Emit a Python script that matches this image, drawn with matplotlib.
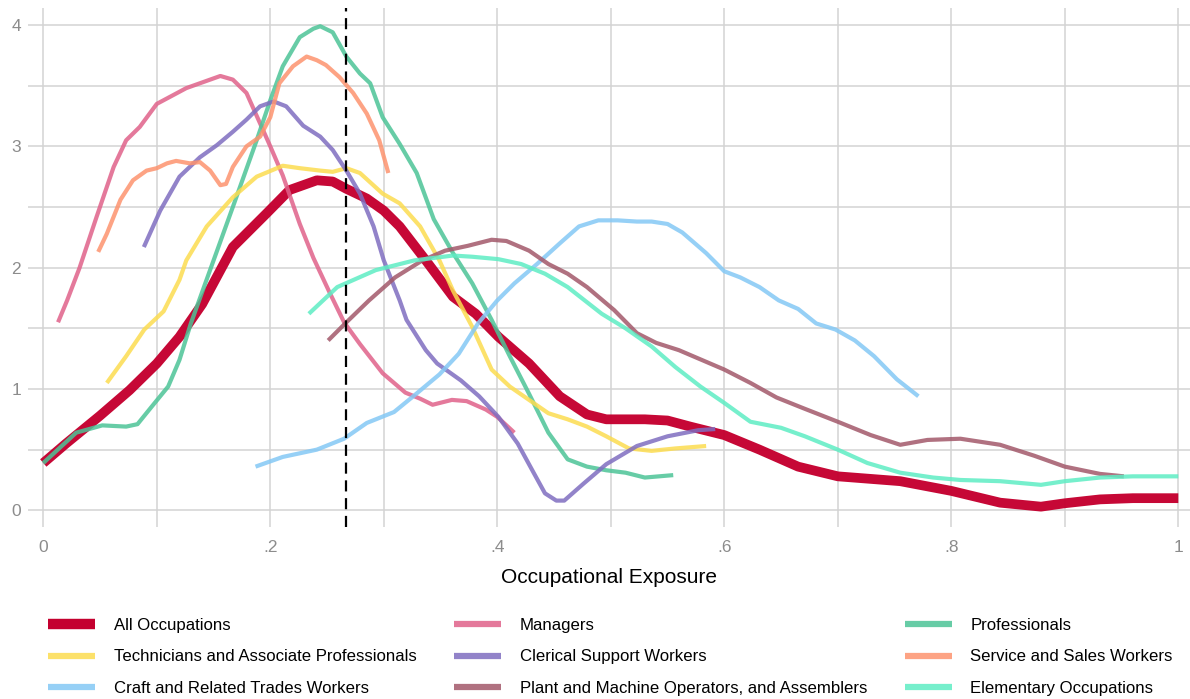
import matplotlib
matplotlib.use("Agg")
import matplotlib.pyplot as plt
from matplotlib.lines import Line2D
import numpy as np

plt.rcParams['font.family'] = ['Liberation Sans', 'DejaVu Sans']

# ----------------------------
# Data (x = occupational exposure, y = density)
# ----------------------------
all_x = [0.0, 0.02, 0.05, 0.076, 0.10, 0.12, 0.14, 0.167, 0.197, 0.217, 0.241, 0.255, 0.267, 0.285, 0.30,
         0.314, 0.337, 0.361, 0.381, 0.401, 0.428, 0.455, 0.479, 0.496, 0.53, 0.55, 0.57, 0.60, 0.631,
         0.665, 0.70, 0.755, 0.80, 0.843, 0.879, 0.90, 0.931, 0.96, 1.0]
all_y = [0.39, 0.55, 0.78, 0.99, 1.21, 1.43, 1.70, 2.17, 2.45, 2.64, 2.72, 2.71, 2.65, 2.57, 2.47,
         2.34, 2.06, 1.76, 1.62, 1.43, 1.21, 0.94, 0.79, 0.75, 0.75, 0.74, 0.69, 0.62, 0.50,
         0.36, 0.28, 0.24, 0.16, 0.063, 0.03, 0.058, 0.09, 0.10, 0.10]

mgr_x = [0.013, 0.021, 0.032, 0.047, 0.062, 0.073, 0.085, 0.10, 0.112, 0.126, 0.141, 0.156, 0.167, 0.179,
         0.19, 0.20, 0.211, 0.226, 0.238, 0.252, 0.265, 0.279, 0.299, 0.319, 0.332, 0.343, 0.36, 0.373,
         0.39, 0.40, 0.415]
mgr_y = [1.55, 1.73, 2.0, 2.42, 2.83, 3.05, 3.16, 3.35, 3.41, 3.48, 3.53, 3.58, 3.55, 3.44,
         3.21, 3.0, 2.76, 2.36, 2.08, 1.80, 1.55, 1.37, 1.13, 0.97, 0.92, 0.87, 0.91, 0.90,
         0.83, 0.77, 0.64]

prof_x = [0.0, 0.029, 0.052, 0.073, 0.083, 0.096, 0.11, 0.12, 0.13, 0.14, 0.167, 0.188, 0.20, 0.211,
          0.226, 0.238, 0.244, 0.255, 0.267, 0.279, 0.288, 0.299, 0.314, 0.329, 0.344, 0.361, 0.378,
          0.395, 0.411, 0.428, 0.445, 0.462, 0.479, 0.496, 0.513, 0.53, 0.555]
prof_y = [0.39, 0.64, 0.70, 0.69, 0.71, 0.86, 1.02, 1.24, 1.54, 1.80, 2.50, 3.05, 3.38, 3.66,
          3.90, 3.97, 3.99, 3.94, 3.74, 3.60, 3.52, 3.24, 3.02, 2.78, 2.40, 2.12, 1.87,
          1.57, 1.27, 0.96, 0.64, 0.42, 0.36, 0.33, 0.31, 0.27, 0.29]

tech_x = [0.056, 0.073, 0.089, 0.106, 0.12, 0.126, 0.144, 0.167, 0.188, 0.211, 0.226, 0.244, 0.255, 0.267,
          0.279, 0.299, 0.314, 0.332, 0.349, 0.361, 0.378, 0.395, 0.411, 0.428, 0.445, 0.462, 0.479,
          0.496, 0.516, 0.536, 0.557, 0.584]
tech_y = [1.05, 1.27, 1.49, 1.64, 1.90, 2.06, 2.34, 2.58, 2.75, 2.84, 2.82, 2.80, 2.79, 2.82,
          2.78, 2.61, 2.53, 2.34, 2.06, 1.81, 1.51, 1.16, 1.02, 0.91, 0.80, 0.75, 0.69,
          0.61, 0.51, 0.49, 0.51, 0.53]

cler_x = [0.0886, 0.103, 0.12, 0.138, 0.153, 0.167, 0.179, 0.191, 0.203, 0.214, 0.229, 0.244, 0.255,
          0.267, 0.279, 0.291, 0.30, 0.314, 0.32, 0.337, 0.347, 0.368, 0.384, 0.401, 0.418, 0.432,
          0.442, 0.452, 0.459, 0.476, 0.496, 0.523, 0.55, 0.577, 0.592]
cler_y = [2.17, 2.47, 2.75, 2.91, 3.01, 3.12, 3.22, 3.33, 3.37, 3.33, 3.17, 3.08, 2.97,
          2.80, 2.61, 2.34, 2.06, 1.73, 1.57, 1.32, 1.21, 1.07, 0.94, 0.77, 0.55, 0.31,
          0.14, 0.08, 0.08, 0.22, 0.38, 0.53, 0.61, 0.66, 0.67]

serv_x = [0.0484, 0.056, 0.068, 0.079, 0.091, 0.10, 0.109, 0.117, 0.129, 0.138, 0.147, 0.156, 0.161,
          0.167, 0.179, 0.191, 0.20, 0.208, 0.22, 0.232, 0.241, 0.249, 0.261, 0.273, 0.285, 0.296, 0.304]
serv_y = [2.13, 2.28, 2.56, 2.72, 2.80, 2.82, 2.86, 2.88, 2.86, 2.87, 2.80, 2.68, 2.69,
          2.83, 3.0, 3.08, 3.24, 3.52, 3.66, 3.74, 3.71, 3.67, 3.57, 3.44, 3.27, 3.05, 2.78]

craft_x = [0.187, 0.211, 0.241, 0.265, 0.285, 0.309, 0.326, 0.349, 0.366, 0.383, 0.40, 0.415, 0.435,
           0.455, 0.472, 0.489, 0.506, 0.523, 0.536, 0.55, 0.563, 0.584, 0.60, 0.614, 0.631, 0.648,
           0.665, 0.681, 0.698, 0.715, 0.732, 0.752, 0.771]
craft_y = [0.36, 0.44, 0.50, 0.59, 0.72, 0.81, 0.94, 1.12, 1.29, 1.54, 1.73, 1.87, 2.03,
           2.20, 2.34, 2.39, 2.39, 2.38, 2.38, 2.36, 2.29, 2.12, 1.97, 1.92, 1.84, 1.73,
           1.66, 1.54, 1.49, 1.40, 1.27, 1.08, 0.94]

plant_x = [0.251, 0.266, 0.287, 0.31, 0.334, 0.354, 0.374, 0.395, 0.408, 0.428, 0.445, 0.462, 0.479,
           0.503, 0.523, 0.54, 0.56, 0.58, 0.60, 0.623, 0.646, 0.67, 0.70, 0.729, 0.755, 0.779,
           0.808, 0.843, 0.873, 0.90, 0.931, 0.952]
plant_y = [1.40, 1.54, 1.73, 1.92, 2.06, 2.14, 2.18, 2.23, 2.22, 2.14, 2.03, 1.95, 1.84,
           1.65, 1.46, 1.38, 1.32, 1.24, 1.16, 1.05, 0.93, 0.84, 0.73, 0.62, 0.54, 0.58,
           0.59, 0.54, 0.45, 0.36, 0.30, 0.28]

elem_x = [0.234, 0.259, 0.293, 0.327, 0.361, 0.378, 0.401, 0.421, 0.442, 0.462, 0.492, 0.513, 0.536,
          0.557, 0.579, 0.60, 0.623, 0.65, 0.671, 0.70, 0.726, 0.755, 0.784, 0.808, 0.843, 0.879,
          0.90, 0.931, 0.96, 1.0]
elem_y = [1.62, 1.84, 1.98, 2.06, 2.10, 2.09, 2.07, 2.03, 1.95, 1.84, 1.62, 1.50, 1.35,
          1.18, 1.02, 0.885, 0.73, 0.68, 0.61, 0.50, 0.39, 0.31, 0.27, 0.25, 0.24, 0.21,
          0.24, 0.27, 0.28, 0.28]

threshold = 0.2665

# (label, x, y, colour) in legend order
series = [
    ("All Occupations", all_x, all_y, '#c4002f'),
    ("Managers", mgr_x, mgr_y, '#e0628a'),
    ("Professionals", prof_x, prof_y, '#4cc497'),
    ("Technicians and Associate Professionals", tech_x, tech_y, '#fcdc50'),
    ("Clerical Support Workers", cler_x, cler_y, '#7f6dc0'),
    ("Service and Sales Workers", serv_x, serv_y, '#fd936e'),
    ("Craft and Related Trades Workers", craft_x, craft_y, '#84c8f5'),
    ("Plant and Machine Operators, and Assemblers", plant_x, plant_y, '#a2586a'),
    ("Elementary Occupations", elem_x, elem_y, '#5eedc4'),
]

# ----------------------------
# Plot
# ----------------------------
fig = plt.figure(figsize=(11.9, 6.99), dpi=100)
ax = fig.add_axes([0.0235, 0.246, 0.9765, 0.7425])

handles = {}
for i, (name, xs, ys, col) in enumerate(series):
    if i == 0:
        ax.plot(xs, ys, color=col, lw=7.0, alpha=0.97, solid_capstyle='butt', solid_joinstyle='round', zorder=2)
        handles[name] = Line2D([], [], color=col, lw=7.5, solid_capstyle='butt')
    else:
        ax.plot(xs, ys, color=col, lw=3.0, alpha=0.85, solid_capstyle='butt', solid_joinstyle='round', zorder=3)
        handles[name] = Line2D([], [], color=col, lw=4.5, alpha=0.85, solid_capstyle='butt')

ax.axvline(threshold, color='black', lw=1.6, ls=(0, (5, 3)), zorder=4)

ax.set_xlim(-0.0135, 1.0103)
ax.set_ylim(-0.138, 4.14)

xt = np.round(np.arange(0, 1.01, 0.1), 1)
ax.set_xticks(xt)
ax.set_xticklabels(['0', '', '.2', '', '.4', '', '.6', '', '.8', '', '1'])
yt = np.arange(0, 4.01, 0.5)
ax.set_yticks(yt)
ax.set_yticklabels([str(int(v)) if v == int(v) else '' for v in yt])
ax.tick_params(length=0, labelsize=12.5, colors='#8c8c8c')
ax.tick_params(axis='x', pad=9)
ax.tick_params(axis='y', pad=5)
ax.grid(True, color='#d3d3d3', lw=1.1)
ax.set_axisbelow(True)
for s in ax.spines.values():
    s.set_visible(False)

ax.set_xlabel("Occupational Exposure", fontsize=15, labelpad=10)

# legend: 3 columns, filled row-wise in the reference
order = [0, 3, 6, 1, 4, 7, 2, 5, 8]
names = [series[k][0] for k in order]
fig.legend([handles[n] for n in names], names, loc='upper left',
           bbox_to_anchor=(48 / 1190, 1 - 618 / 699), ncol=3, frameon=False,
           fontsize=12.1, handlelength=2.8, handletextpad=1.1, columnspacing=2.25,
           labelspacing=0.98, borderpad=0, borderaxespad=0)

fig.savefig("out.png", dpi=100)
